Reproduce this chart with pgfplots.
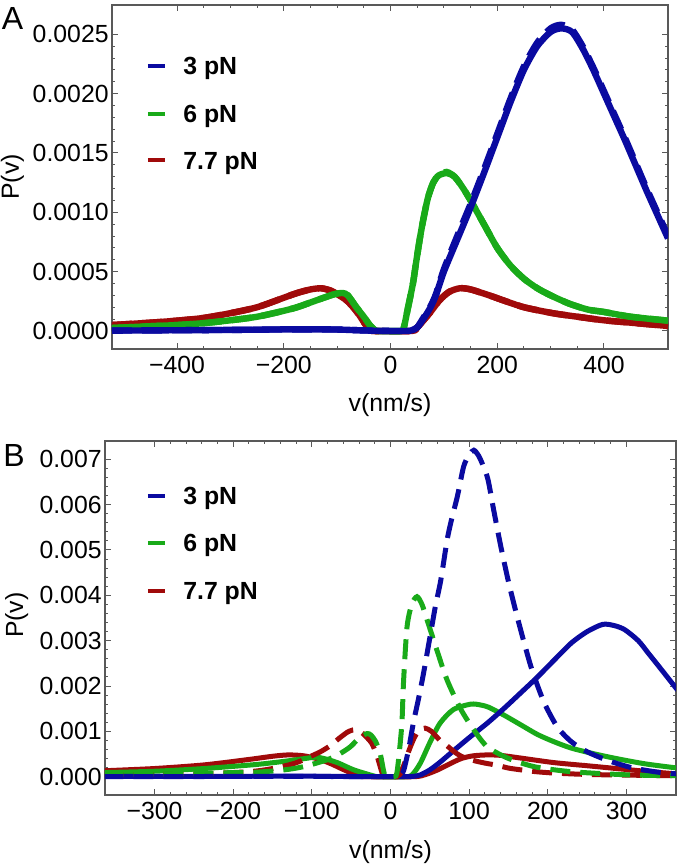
\documentclass[border=0pt]{standalone}
\usepackage{fontspec}
\setmainfont{Liberation Sans}
\usepackage{pgfplots}
\pgfplotsset{compat=1.18}
\definecolor{cblue}{RGB}{10,10,160}
\definecolor{cgreen}{RGB}{25,170,25}
\definecolor{cred}{RGB}{160,10,10}
\newcommand{\fs}{\fontsize{12.4}{14}\selectfont}
\pgfplotsset{
  mma/.style={
    scale only axis,
    scaled x ticks=false, scaled y ticks=false,
    axis line style={black!65, line width=0.6pt},
    tick style={black!65, line width=0.5pt},
    major tick length=3pt, minor tick length=1.6pt,
    tick align=inside,
    ticklabel style={font=\fs},
    yticklabel style={inner xsep=1.5pt},
    label style={font=\fs},
    clip=true,
  },
  dsh/.style={dash pattern=on 10pt off 5pt},
}
\begin{document}
\begin{tikzpicture}
\useasboundingbox (0,0) rectangle (338.5pt,432pt);
% ---------------- Panel A ----------------
\begin{axis}[mma,
  at={(56pt,257.5pt)}, anchor=south west,
  width=278pt, height=172pt,
  xmin=-522, xmax=520, ymin=-0.000152, ymax=0.002747,
  xtick={-400,-200,0,200,400},
  xticklabels={−400,−200,0,200,400},
  minor x tick num=3,
  ytick={0,0.0005,0.001,0.0015,0.002,0.0025},
  yticklabels={0.0000,0.0005,0.0010,0.0015,0.0020,0.0025},
  minor y tick num=4,
  xlabel={v(nm/s)}, ylabel={P(v)},
  xlabel style={at={(axis description cs:0.5,-0.162)}, anchor=center},
  ylabel style={at={(axis description cs:-0.179,0.5)}, anchor=center},
  every axis plot/.append style={line width=3.2pt, smooth, tension=0.45},
]
% red 7.7 pN
\addplot[cred] coordinates {(-522,0.00005)(-450,0.00007)(-400,0.000087)(-350,0.00011)(-300,0.00015)(-250,0.0002)(-200,0.00028)(-175,0.00032)(-150,0.00035)(-130,0.00036)(-112,0.00034)(-100,0.00031)(-83,0.00026)(-70,0.0002)(-58,0.00013)(-48,0.00006)(-40,0.00002)(-34,0)(40,0)(50,0.00003)(60,0.00008)(75,0.00016)(92,0.00026)(110,0.00033)(130,0.00036)(150,0.00035)(185,0.0003)(210,0.00026)(250,0.0002)(304,0.00015)(350,0.00012)(400,0.00009)(450,0.00007)(520,0.000042)};
\addplot[cred,dsh] coordinates {(-522,0.00005)(-450,0.00007)(-400,0.000087)(-350,0.00011)(-300,0.00015)(-250,0.0002)(-200,0.00028)(-175,0.00032)(-150,0.00035)(-130,0.00036)(-112,0.00034)(-100,0.00031)(-83,0.00026)(-70,0.0002)(-58,0.00013)(-48,0.00006)(-40,0.00002)(-34,0)(40,0)(50,0.00003)(60,0.00008)(75,0.00016)(92,0.00026)(110,0.00033)(130,0.00036)(150,0.00035)(185,0.0003)(210,0.00026)(250,0.0002)(304,0.00015)(350,0.00012)(400,0.00009)(450,0.00007)(520,0.000042)};
% green 6 pN
\addplot[cgreen] coordinates {(-522,0.000025)(-450,0.00004)(-400,0.00005)(-350,0.000066)(-300,0.00009)(-250,0.00012)(-200,0.00017)(-175,0.0002)(-150,0.00024)(-125,0.00028)(-105,0.00031)(-90,0.00032)(-80,0.0003)(-64,0.0002)(-50,0.00012)(-39,0.00005)(-30,0.00001)(-25,0)(20,0)(25,0.00003)(32,0.00018)(42,0.0004)(48,0.00058)(55,0.00078)(61,0.00093)(70,0.00112)(80,0.00125)(90,0.00131)(105,0.00133)(120,0.0013)(135,0.00121)(150,0.0011)(175,0.0009)(200,0.0007)(225,0.00055)(250,0.00044)(275,0.00036)(300,0.0003)(335,0.00023)(370,0.00018)(400,0.00016)(450,0.00012)(520,0.000087)};
\addplot[cgreen,dsh] coordinates {(-522,0.000025)(-450,0.00004)(-400,0.00005)(-350,0.000066)(-300,0.00009)(-250,0.00012)(-200,0.00017)(-175,0.0002)(-150,0.00024)(-125,0.00028)(-105,0.00031)(-90,0.00032)(-80,0.0003)(-64,0.0002)(-50,0.00012)(-39,0.00005)(-30,0.00001)(-25,0)(20,0)(25,0.00003)(32,0.00018)(42,0.0004)(48,0.00058)(55,0.00078)(61,0.00093)(70,0.00112)(80,0.00125)(90,0.00131)(105,0.00134)(120,0.0013)(135,0.00121)(150,0.0011)(175,0.0009)(200,0.0007)(225,0.00055)(250,0.00044)(275,0.00036)(300,0.0003)(335,0.00023)(370,0.00018)(400,0.00016)(450,0.00012)(520,0.000087)};
% blue 3 pN
\addplot[cblue] coordinates {(-522,0.000003)(-400,0.000006)(-300,0.000009)(-200,0.000013)(-150,0.000014)(-100,0.000012)(-60,0.000006)(-30,0.000002)(0,0)(30,0)(40,0.000006)(50,0.00003)(60,0.00009)(75,0.0002)(85,0.0003)(100,0.0005)(125,0.00077)(150,0.00104)(175,0.00133)(200,0.00163)(225,0.00193)(250,0.0022)(275,0.0024)(300,0.00252)(320,0.00255)(340,0.00252)(360,0.00238)(380,0.0022)(400,0.002)(420,0.0018)(440,0.0016)(460,0.00139)(480,0.00118)(500,0.00098)(520,0.00078)};
\addplot[cblue,dsh] coordinates {(-522,0.000003)(-400,0.000006)(-300,0.000009)(-200,0.000013)(-150,0.000014)(-100,0.000012)(-60,0.000006)(-30,0.000002)(0,0)(30,0)(40,0.000006)(50,0.00003)(60,0.0001)(75,0.00021)(85,0.00031)(100,0.00052)(125,0.0008)(150,0.00107)(175,0.00136)(200,0.00166)(225,0.00196)(250,0.00223)(275,0.00243)(300,0.00255)(320,0.00258)(340,0.00254)(360,0.0024)(380,0.00222)(400,0.00202)(420,0.00182)(440,0.00162)(460,0.00141)(480,0.0012)(500,0.001)(520,0.0008)};
% legend
\draw[cblue, line width=2pt] (axis description cs:0.0647,0.823) -- (axis description cs:0.0953,0.823);
\draw[cgreen, line width=2pt] (axis description cs:0.0647,0.684) -- (axis description cs:0.0953,0.684);
\draw[cred, line width=2pt] (axis description cs:0.0647,0.548) -- (axis description cs:0.0953,0.548);
\node[anchor=base west, inner sep=0pt, yshift=-4.4pt, font=\fs\bfseries] at (axis description cs:0.1277,0.823) {3 pN};
\node[anchor=base west, inner sep=0pt, yshift=-4.4pt, font=\fs\bfseries] at (axis description cs:0.1277,0.684) {6 pN};
\node[anchor=base west, inner sep=0pt, yshift=-4.4pt, font=\fs\bfseries] at (axis description cs:0.1277,0.548) {7.7 pN};
\end{axis}
% ---------------- Panel B ----------------
\begin{axis}[mma,
  at={(52.5pt,34.5pt)}, anchor=south west,
  width=285.5pt, height=177pt,
  xmin=-363, xmax=363, ymin=-0.000404, ymax=0.0074037,
  xtick={-300,-200,-100,0,100,200,300},
  xticklabels={−300,−200,−100,0,100,200,300},
  minor x tick num=4,
  ytick={0,0.001,0.002,0.003,0.004,0.005,0.006,0.007},
  yticklabels={0.000,0.001,0.002,0.003,0.004,0.005,0.006,0.007},
  minor y tick num=4,
  xlabel={v(nm/s)}, ylabel={P(v)},
  xlabel style={at={(axis description cs:0.5,-0.161)}, anchor=center},
  ylabel style={at={(axis description cs:-0.1547,0.508)}, anchor=center},
  every axis plot/.append style={line width=2.5pt, smooth, tension=0.45},
]
\addplot[cred] coordinates {(-365,0.00013)(-300,0.00018)(-237,0.00026)(-180,0.00038)(-150,0.00045)(-130,0.00048)(-110,0.00046)(-90,0.00038)(-75,0.00028)(-64,0.00019)(-55,0.00012)(-47,0.00006)(-40,0.00002)(-33,0)(30,0)(45,0.00005)(60,0.00015)(75,0.00028)(90,0.0004)(105,0.00046)(123,0.00048)(140,0.00047)(166,0.00041)(208,0.00031)(251,0.00024)(293,0.00017)(330,0.00011)(365,0.00006)};
\addplot[cgreen] coordinates {(-365,0.00009)(-300,0.00012)(-237,0.00018)(-170,0.00027)(-130,0.00035)(-109,0.0004)(-94,0.00043)(-80,0.00038)(-66,0.0003)(-56,0.00022)(-45,0.00014)(-30,0.00006)(-22,0.00002)(-15,0)(20,0)(28,0.00005)(38,0.0003)(50,0.00075)(63,0.00118)(80,0.00148)(102,0.0016)(115,0.00158)(125,0.00153)(144,0.00136)(166,0.00114)(187,0.00093)(208,0.00077)(230,0.00063)(260,0.0005)(290,0.00039)(325,0.00028)(365,0.00019)};
\addplot[cblue] coordinates {(-365,0.000005)(-250,0.000008)(-150,0.00001)(-100,0.00001)(-60,0.000005)(-20,0)(20,0)(30,0.00001)(38,0.00004)(50,0.00015)(63,0.00032)(80,0.00057)(100,0.00086)(123,0.00118)(144,0.0015)(165,0.00184)(187,0.0022)(208,0.00257)(230,0.00295)(250,0.0032)(270,0.00336)(285,0.00333)(298,0.00324)(315,0.003)(328,0.00272)(345,0.00235)(365,0.00191)};
\addplot[cred,dsh] coordinates {(-365,0.00003)(-250,0.00006)(-180,0.00011)(-150,0.00018)(-121,0.0003)(-100,0.00046)(-88,0.00056)(-77,0.00068)(-65,0.00085)(-55,0.00098)(-48,0.00103)(-42,0.00103)(-35,0.00095)(-24,0.00074)(-17,0.00045)(-11,0.0001)(-8,0)(8,0)(12,0.00005)(18,0.0003)(24,0.0006)(30,0.00085)(36,0.00102)(44,0.00107)(52,0.001)(63,0.0008)(72,0.00068)(81,0.00055)(90,0.00045)(105,0.00036)(120,0.0003)(136,0.00025)(150,0.00019)(166,0.00015)(185,0.00011)(208,0.00008)(240,0.000055)(276,0.00004)(320,0.00003)(365,0.00002)};
\addplot[cgreen,dsh] coordinates {(-365,0.00005)(-250,0.00007)(-200,0.00009)(-170,0.0001)(-135,0.00015)(-111,0.00022)(-81,0.00037)(-65,0.0005)(-51,0.00066)(-40,0.00085)(-30,0.00095)(-25,0.00092)(-19,0.00078)(-13,0.0005)(-9,0.00015)(-6,0)(5,0)(8,0.00007)(11,0.0005)(14.5,0.00118)(16.6,0.0021)(21,0.0033)(27,0.0038)(33.7,0.00397)(40,0.0038)(46.5,0.00346)(59,0.00279)(72,0.00213)(89,0.0015)(106,0.00103)(123,0.00066)(149,0.00041)(183,0.00022)(230,0.00011)(302,0.00004)(365,0.00002)};
\addplot[cblue,dsh] coordinates {(-365,0)(-200,0.000005)(-100,0.000005)(0,0)(10,0)(14,0.00005)(17,0.00015)(23,0.0006)(29,0.00118)(36,0.00175)(42,0.00228)(51,0.00316)(57,0.00375)(64,0.00434)(72,0.00522)(78,0.0057)(85,0.00618)(93,0.00684)(100,0.0071)(106,0.0072)(112,0.00708)(118,0.00685)(124,0.00655)(131,0.0059)(140,0.0051)(150,0.0043)(160,0.0036)(170,0.00295)(180,0.00235)(195,0.00165)(212,0.0011)(230,0.00077)(250,0.00055)(270,0.0004)(290,0.00028)(310,0.000185)(340,0.0001)(365,0.00006)};
% legend
\draw[cblue, line width=2pt] (axis description cs:0.0753,0.8455) -- (axis description cs:0.105,0.8455);
\draw[cgreen, line width=2pt] (axis description cs:0.0753,0.712) -- (axis description cs:0.105,0.712);
\draw[cred, line width=2pt] (axis description cs:0.0753,0.576) -- (axis description cs:0.105,0.576);
\node[anchor=base west, inner sep=0pt, yshift=-4.4pt, font=\fs\bfseries] at (axis description cs:0.1366,0.8455) {3 pN};
\node[anchor=base west, inner sep=0pt, yshift=-4.4pt, font=\fs\bfseries] at (axis description cs:0.1366,0.712) {6 pN};
\node[anchor=base west, inner sep=0pt, yshift=-4.4pt, font=\fs\bfseries] at (axis description cs:0.1366,0.576) {7.7 pN};
\end{axis}
% panel letters
\node[font=\fontsize{16}{19}\selectfont] at (6.25pt,422.85pt) {A};
\node[font=\fontsize{16}{19}\selectfont] at (7pt,204.5pt) {B};
\end{tikzpicture}
\end{document}
